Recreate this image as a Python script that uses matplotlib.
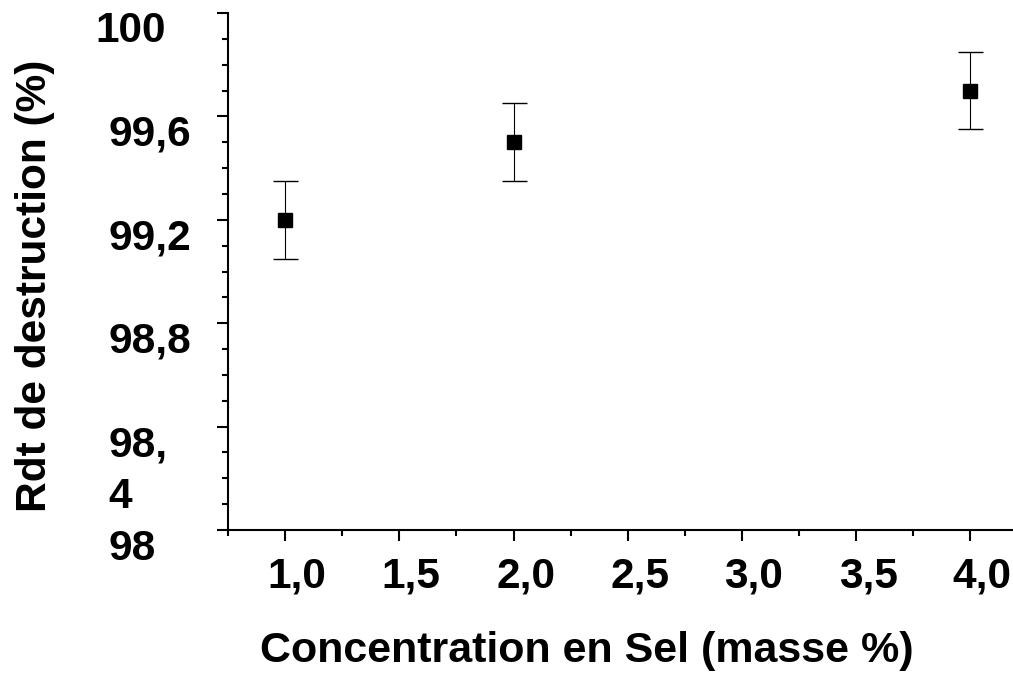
import matplotlib
matplotlib.use("Agg")
import matplotlib.pyplot as plt
import matplotlib.transforms as mtransforms
from matplotlib.ticker import MultipleLocator

# Data
concentration = [1.0, 2.0, 4.0]
rendement = [99.2, 99.5, 99.7]
erreur = [0.15, 0.15, 0.15]

y_ticks = [98.0, 98.4, 98.8, 99.2, 99.6, 100.0]
y_ticklabels = ["98", "98,\n4", "98,8", "99,2", "99,6", "100"]
x_ticks = [1.0, 1.5, 2.0, 2.5, 3.0, 3.5, 4.0]
x_ticklabels = ["1,0", "1,5", "2,0", "2,5", "3,0", "3,5", "4,0"]

plt.rcParams['font.family'] = ['Liberation Sans', 'DejaVu Sans']
plt.rcParams['font.weight'] = 'bold'

FS = 30.5

W, H = 1013, 674
fig = plt.figure(figsize=(W / 100, H / 100), dpi=100)
ax = fig.add_axes([228 / W, (H - 530) / H, (1016 - 228) / W, (530 - 13) / H])

ax.errorbar(concentration, rendement, yerr=erreur, fmt='s', color='black',
            markersize=10, ecolor='black', elinewidth=0.8, capsize=9,
            capthick=1.0, zorder=3, clip_on=False)

ax.set_xlim(0.75, 4.2)
ax.set_ylim(98.0, 100.0)

for side in ['top', 'right']:
    ax.spines[side].set_visible(False)
for side in ['left', 'bottom']:
    ax.spines[side].set_linewidth(1.5)

ax.set_yticks(y_ticks)
ax.set_yticklabels(y_ticklabels, fontsize=FS, fontweight='bold')
ax.yaxis.set_minor_locator(MultipleLocator(0.1))
ax.set_xticks(x_ticks)
ax.set_xticklabels(x_ticklabels, fontsize=FS, fontweight='bold')
ax.xaxis.set_minor_locator(MultipleLocator(0.25))

ax.tick_params(axis='both', which='major', direction='out', length=8, width=1.5)
ax.tick_params(axis='both', which='minor', direction='out', length=4, width=1.5)
ax.tick_params(axis='x', which='major', pad=11)

# y tick labels: left aligned at x ~108 px, cap top just below the tick
for tick, lab in zip(ax.yaxis.get_major_ticks(), y_ticklabels):
    t = tick.label1
    t.set_horizontalalignment('left')
    t.set_verticalalignment('top')
    left_px = 95 if lab == "100" else 108
    tick.set_pad((228 - 8 * 100 / 72 - left_px) * 72 / 100)
    off = mtransforms.ScaledTranslation(0, 1.5 / 100, fig.dpi_scale_trans)
    t.set_transform(t.get_transform() + off)
    t.set_linespacing(1.38)

for tick in ax.xaxis.get_major_ticks():
    t = tick.label1
    off = mtransforms.ScaledTranslation(12 / 100, 0, fig.dpi_scale_trans)
    t.set_transform(t.get_transform() + off)

fig.text(587 / W, 1 - 651 / H, "Concentration en Sel (masse %)", fontsize=31,
         fontweight='bold', ha='center', va='center')
fig.text(35 / W, 1 - 286 / H, "Rdt de destruction (%)", fontsize=FS,
         fontweight='bold', ha='center', va='center', rotation=90)

fig.savefig("out.png", dpi=100)
